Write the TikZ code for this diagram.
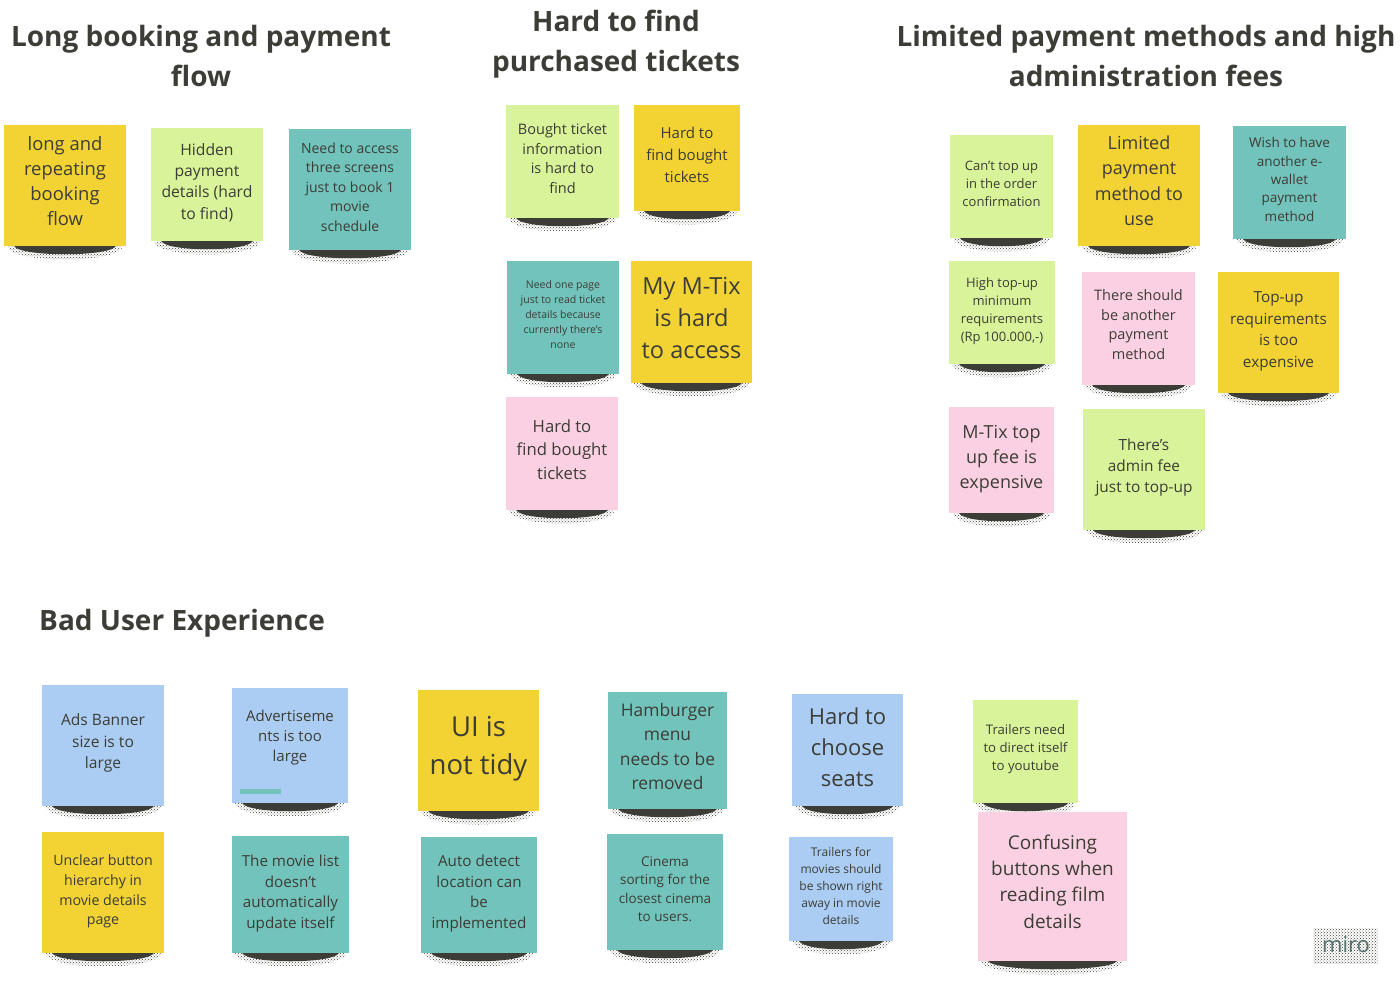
\documentclass[tikz,border=0pt]{standalone}
\usepackage{fontspec}
\setmainfont{Open Sans}
\usepackage{tikz}
\usetikzlibrary{patterns}

\definecolor{inkdark}{HTML}{3C3D36}
\definecolor{noteyellow}{HTML}{F3D233}
\definecolor{notegreen}{HTML}{D8F39A}
\definecolor{noteteal}{HTML}{72C3BB}
\definecolor{noteblue}{HTML}{ABCDF3}
\definecolor{notepink}{HTML}{FBD0E2}

\tikzset{
	title/.style={text=inkdark, font=\fontsize{28}{40}\selectfont\bfseries, align=center, inner sep=0pt},
	sticky/.style={text=inkdark, align=center, inner sep=0pt},
	haze/.style={pattern=crosshatch dots, pattern color=inkdark, draw=none},
	shade/.style={fill=inkdark, draw=none},
}

\begin{document}
\begin{tikzpicture}[x=1pt,y=-1pt]
				\useasboundingbox (0,0) rectangle (1400,985);

				\node [title] (longtitle) at (201,55.5) {Long booking and payment\\flow};
				\node [title] (findtitle) at (616,44) {Hard to find\\purchased tickets};
				\node [title] (feestitle) at (1146,55.5) {Limited payment methods and high\\administration fees};
				\node [title, anchor=west] (badtitle) at (39,623) {Bad User Experience};

				% name / left / top / right / bottom / colour / size / leading / lift / text
				\foreach \n/\xa/\ya/\xb/\yb/\c/\s/\l/\u/\t in {
					longflow/4/125/126/246/noteyellow/18.4/25/4/{long and\\repeating\\booking\\flow},
					hidden/151/128/263/241/notegreen/15.7/21.3/2/{Hidden\\payment\\details (hard\\to find)},
					screens/289/129/411/250/noteteal/14/19.5/2.5/{Need to access\\three screens\\just to book 1\\movie\\schedule},
					bought/506/105/619/218/notegreen/14.5/19.5/3/{Bought ticket\\information\\is hard to\\find},
					findbought/634/105/740/211/noteyellow/15/22/3/{Hard to\\find bought\\tickets},
					onepage/507/261/619/374/noteteal/10.5/15/3/{Need one page\\just to read ticket\\details because\\currently there's\\none},
					mymtix/631/261/752/383/noteyellow/23.5/32/4/{My M-Tix\\is hard\\to access},
					hardtop/506/397/618/510/notepink/16.7/23.5/4/{Hard to\\find bought\\tickets},
					cantop/950/135/1053/238/notegreen/13/18/3/{Can't top up\\in the order\\confirmation},
					limited/1078/125/1200/246/noteyellow/18/25.5/5/{Limited\\payment\\method to\\use},
					wish/1233/126/1346/239/noteteal/13.5/18.3/3/{Wish to have\\another e-\\wallet\\payment\\method},
					minimum/949/261/1055/364/notegreen/13/18/1.5/{High top-up\\minimum\\requirements\\(Rp 100.000,-)},
					another/1082/272/1195/385/notepink/14.5/19.5/4/{There should\\be another\\payment\\method},
					toprequire/1218/272/1339/393/noteyellow/15.3/21.5/1/{Top-up\\requirements\\is too\\expensive},
					topfee/949/407/1054/513/notepink/18/25/1/{M-Tix top\\up fee is\\expensive},
					adminfee/1083/409/1205/530/notegreen/15.4/21/2/{There's\\admin fee\\just to top-up},
					banner/42/685/164/806/noteblue/15.6/21.5/2.5/{Ads Banner\\size is to\\large},
					advert/232/688/348/803/noteblue/15/20/8/{Advertiseme\\nts is too\\large},
					tidy/418/690/539/811/noteyellow/27.5/38/2/{UI is\\not tidy},
					hamburger/608/692/727/809/noteteal/17.4/24.5/4/{Hamburger\\menu\\needs to be\\removed},
					seats/792/694/903/806/noteblue/22/31/3/{Hard to\\choose\\seats},
					youtube/973/700/1078/803/notegreen/13.2/18/2/{Trailers need\\to direct itself\\to youtube},
					unclear/42/832/164/953/noteyellow/14.2/19.7/1/{Unclear button\\hierarchy in\\movie details\\page},
					movielist/232/836/349/953/noteteal/15.2/20.7/1/{The movie list\\doesn't\\automatically\\update itself},
					detect/421/837/537/953/noteteal/15.2/20.7/1.5/{Auto detect\\location can\\be\\implemented},
					cinema/607/834/723/950/noteteal/13.5/18.5/3/{Cinema\\sorting for the\\closest cinema\\to users.},
					trailers/789/837/893/941/noteblue/12/17/3/{Trailers for\\movies should\\be shown right\\away in movie\\details},
					confusing/978/812/1127/961/notepink/19/26.3/5/{Confusing\\buttons when\\reading film\\details}%
				}{
					\path [haze] (\xa+3,\yb) .. controls (\xa+6,\yb+18) and (\xb-6,\yb+18) .. (\xb-3,\yb) -- cycle;
					\path [shade] (\xa+10,\yb) .. controls (\xa+16,\yb+11) and (\xb-16,\yb+11) .. (\xb-10,\yb) -- cycle;
					\fill [\c] (\xa,\ya) rectangle (\xb,\yb);
					\node [sticky, font=\fontsize{\s}{\l}\selectfont, yshift=\u pt] (\n) at ({(\xa+\xb)/2},{(\ya+\yb)/2}) {\t};
				}

				\node [fill=noteteal, minimum width=41pt, minimum height=5pt, inner sep=0pt] (advertbar) at (260.5,791.5) {};

				\path [pattern=crosshatch dots, pattern color=inkdark] (1313,928) rectangle (1378,963);
				\node [text=noteteal!40!inkdark, font=\fontsize{22}{22}\selectfont, inner sep=0pt] (miro) at (1346,945) {miro};
\end{tikzpicture}
\end{document}
